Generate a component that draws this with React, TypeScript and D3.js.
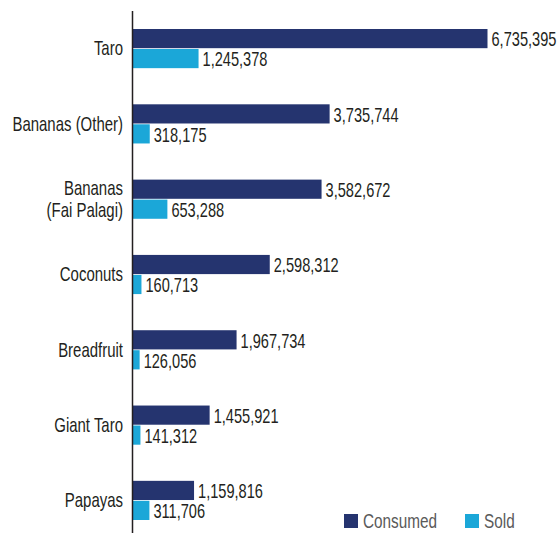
import React, { useRef, useEffect } from 'react';
import * as d3 from 'd3';

const categories = ['Taro', 'Bananas (Other)', 'Bananas\n(Fai Palagi)', 'Coconuts', 'Breadfruit', 'Giant Taro', 'Papayas'];
const consumed = [6735395, 3735744, 3582672, 2598312, 1967734, 1455921, 1159816];
const sold = [1245378, 318175, 653288, 160713, 126056, 141312, 311706];
const seriesNames = ['Consumed', 'Sold'];
const seriesColors = ['#25346f', '#1ba7d8'];

const FONT = '"Liberation Sans", Arial, sans-serif';
const SQUEEZE = 0.73; // fake a condensed face, none is installed

const App: React.FC = () => {
  const svgRef = useRef<SVGSVGElement>(null);

  useEffect(() => {
    if (!svgRef.current) return;
    const svg = d3.select(svgRef.current);
    svg.selectAll('*').remove();

    const width = 557;
    const height = 533;
    const axisX = 133;

    const x = d3.scaleLinear().domain([0, 6735395]).range([axisX, axisX + 6735395 / 19000]);

    const y = d3.scaleBand<string>()
      .domain(categories)
      .range([29, 520])
      .paddingInner(0.48)
      .paddingOuter(0);

    const ySub = d3.scaleBand<string>()
      .domain(seriesNames)
      .range([0, y.bandwidth()])
      .paddingInner(0.04);

    const rows = categories.map((c, i) => ({ cat: c, values: [consumed[i], sold[i]] }));

    const narrow = (sel: d3.Selection<any, any, any, any>, size: number, color: string) =>
      sel.style('font-family', FONT).style('font-size', `${size}px`).style('fill', color);

    const groups = svg.append('g')
      .selectAll('g')
      .data(rows)
      .join('g')
      .attr('transform', d => `translate(0,${y(d.cat)})`);

    groups.selectAll('rect')
      .data(d => d.values.map((v, j) => ({ v, name: seriesNames[j], color: seriesColors[j] })))
      .join('rect')
      .attr('x', axisX)
      .attr('y', d => ySub(d.name)!)
      .attr('width', d => x(d.v) - axisX)
      .attr('height', ySub.bandwidth())
      .attr('fill', d => d.color);

    groups.selectAll('text.val')
      .data(d => d.values.map((v, j) => ({ v, name: seriesNames[j] })))
      .join('text')
      .attr('class', 'val')
      .attr('transform', d => `translate(${x(d.v) + 4},${ySub(d.name)! + ySub.bandwidth() / 2 + 1}) scale(${SQUEEZE},1)`)
      .attr('dominant-baseline', 'central')
      .call(narrow, 20, '#231f20')
      .text(d => d3.format(',')(d.v));

    // category labels
    groups.each(function (d) {
      const lines = d.cat.split('\n');
      const t = d3.select(this).append('text')
        .attr('text-anchor', 'end')
        .attr('transform', `translate(123,${y.bandwidth() / 2}) scale(${SQUEEZE},1)`)
        .call(narrow, 20.5, '#231f20');
      const lh = 22;
      lines.forEach((line, k) => {
        t.append('tspan')
          .attr('x', 0)
          .attr('y', (k - (lines.length - 1) / 2) * lh)
          .attr('dominant-baseline', 'central')
          .text(line);
      });
    });

    // axis line
    svg.append('line')
      .attr('x1', axisX - 0.5).attr('x2', axisX - 0.5)
      .attr('y1', 11).attr('y2', height)
      .attr('stroke', '#231f20')
      .attr('stroke-width', 1.5);

    // legend
    const legend = svg.append('g').attr('transform', `translate(344, 514)`);
    const offsets = [0, 121];
    seriesNames.forEach((name, i) => {
      const item = legend.append('g').attr('transform', `translate(${offsets[i]},0)`);
      item.append('rect')
        .attr('width', 14).attr('height', 14)
        .attr('fill', seriesColors[i]);
      item.append('text')
        .attr('transform', `translate(19,7) scale(${SQUEEZE},1)`)
        .attr('dominant-baseline', 'central')
        .call(narrow, 21, '#5a5a5a')
        .text(name);
    });

    svg.attr('width', width).attr('height', height);
  }, []);

  return (
    <svg
      ref={svgRef}
      width={557}
      height={533}
      style={{ position: 'absolute', left: 0, top: 0, background: '#fff' }}
    />
  );
};

export default App;
